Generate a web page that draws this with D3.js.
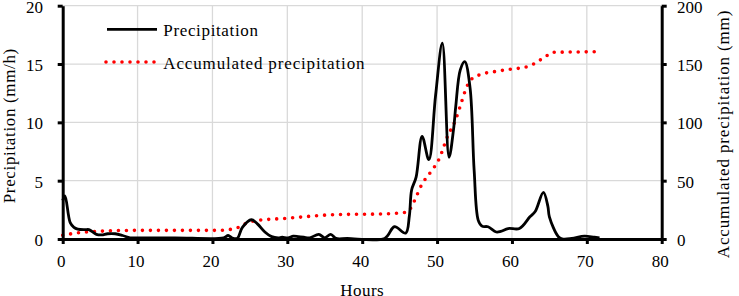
<!DOCTYPE html>
<html><head><meta charset="utf-8">
<script src="https://cdn.jsdelivr.net/npm/d3@7"></script>
<style>
html,body{margin:0;padding:0;background:#fff;}
svg{display:block;}
text{font-family:"Liberation Serif","Times New Roman",serif !important;fill:#000;}
</style></head>
<body><svg id="chart" width="739" height="296"></svg>
<script>
// Precipitation (mm/h) — hours and values
const precipHours = [0,0.3,1,1.5,2,3,3.5,4.5,5.2,6,7,8,9,10,15,21.5,22.1,22.6,23.3,24,25.2,26,27,27.9,28.8,29.3,30.1,30.8,31.5,32.2,33,34.2,35,35.8,36.5,38,43,44.3,45.8,46.3,46.6,47.2,48,48.9,49.8,50.7,51.6,52.2,52.5,53.1,53.7,54.4,54.95,55.5,56,56.8,57.9,58.5,59.5,61,62.4,63.1,64.2,64.8,65,66.2,66.8,68,69.7,71,71.7];
const precipValues = [3.3,3.7,1.4,1.0,0.85,0.8,0.8,0.4,0.35,0.45,0.45,0.3,0.1,0.1,0.1,0.1,0.3,0.1,0.05,1.0,1.65,1.3,0.6,0.2,0.1,0.15,0.1,0.25,0.2,0.15,0.1,0.4,0.1,0.4,0.05,0.05,0.05,1.05,0.5,2.0,4.2,5.3,8.8,6.8,12.3,16.8,7.0,9.4,11.4,14.5,15.2,13.0,5.9,1.6,1.1,1.05,0.6,0.65,0.9,0.9,1.9,2.35,4.0,2.8,1.9,0.2,0.0,0.05,0.25,0.15,0.1];
// Accumulated precipitation (mm)
const accumHours = [0,1,2.2,3.2,4.2,5.7,10,20.5,21.7,22.7,23.7,24.3,25,25.8,30,36.4,42.8,45.9,46.6,47.2,47.9,49.1,50.3,51.4,52.4,53.1,53.7,54.2,54.6,55.7,57.8,59.8,61.8,62.9,63.8,64.7,65.4,71.5];
const accumValues = [3.2,4.3,5.4,6.0,6.3,6.9,7.4,7.4,7.7,8.6,10.6,12.9,14.6,15.7,17.8,20.9,21.5,22.9,27.7,36,46,57,69,88,101,114,126,133.6,137,140.8,143.6,145.6,147.3,150,153.6,157.3,160,160.5];
const xTicks = [0,10,20,30,40,50,60,70,80];
const yLeftTicks = [0,5,10,15,20];
const yRightTicks = [0,50,100,150,200];
const seriesNames = ["Precipitation","Accumulated precipitation"];
const axisTitles = {x:"Hours", left:"Precipitation (mm/h)", right:"Accumulated precipitation (mm)"};

const FONT = '"Liberation Serif","Times New Roman",serif';
const svg = d3.select("#chart");
const L = 62.7, R = 661.7, T = 5.7, B = 239;
const x = d3.scaleLinear().domain([0,80]).range([L,R]);
const yL = d3.scaleLinear().domain([0,20]).range([B,T]);
const yR = d3.scaleLinear().domain([0,200]).range([B,T]);

// gridlines
const grid = svg.append("g").attr("stroke","#d9d9d9").attr("stroke-width",1.3);
grid.selectAll("line.h").data(yLeftTicks.slice(1)).join("line")
  .attr("x1",L).attr("x2",R).attr("y1",d=>yL(d)).attr("y2",d=>yL(d));
grid.selectAll("line.v").data(xTicks.slice(1,-1)).join("line")
  .attr("x1",d=>x(d)).attr("x2",d=>x(d)).attr("y1",T).attr("y2",B);

// series
const pData = precipHours.map((h,i)=>[h,precipValues[i]]);
const aData = accumHours.map((h,i)=>[h,accumValues[i]]);
svg.append("path").datum(aData)
  .attr("d", d3.line().x(d=>x(d[0])).y(d=>yR(d[1])).curve(d3.curveMonotoneX))
  .attr("fill","none").attr("stroke","#ff0000").attr("stroke-width",3.6)
  .attr("stroke-linecap","round").attr("stroke-dasharray","0 8");
svg.append("path").datum(pData)
  .attr("d", d3.line().x(d=>x(d[0])).y(d=>yL(Math.max(0,d[1]))).curve(d3.curveCatmullRom.alpha(0.5)))
  .attr("fill","none").attr("stroke","#000").attr("stroke-width",2.8)
  .attr("stroke-linejoin","round");

// axes
function styleAxis(g){
  g.attr("font-family",FONT).attr("font-size",17);
  g.select(".domain").attr("stroke","#000").attr("stroke-width",3);
  g.selectAll(".tick line").attr("stroke","#000").attr("stroke-width",3);
  g.selectAll(".tick text").attr("font-size",17).attr("font-family",FONT);
}
svg.append("g").attr("transform",`translate(${L},0)`)
  .call(d3.axisLeft(yL).tickValues(yLeftTicks).tickSizeInner(5).tickSizeOuter(0).tickPadding(14.7))
  .call(styleAxis).call(g=>g.selectAll(".tick text").attr("dy","0.38em"));
svg.append("g").attr("transform",`translate(${R},0)`)
  .call(d3.axisRight(yR).tickValues(yRightTicks).tickSizeInner(5).tickSizeOuter(0).tickPadding(10.3))
  .call(styleAxis).call(g=>g.selectAll(".tick text").attr("dy","0.38em"));
svg.append("g").attr("transform",`translate(0,${B})`)
  .call(d3.axisBottom(x).tickValues(xTicks).tickSizeInner(5).tickSizeOuter(0).tickPadding(11.2))
  .call(styleAxis).call(g=>g.selectAll(".tick text").attr("dx","-2"));

// axis titles
svg.append("text").attr("x",(L+R)/2).attr("y",295.5).attr("text-anchor","middle")
  .attr("font-size",17).attr("letter-spacing","0.5px").text(axisTitles.x);
svg.append("text").attr("transform","translate(14.5,125.7) rotate(-90)").attr("text-anchor","middle")
  .attr("font-size",17).attr("letter-spacing","0.65px").text(axisTitles.left);
svg.append("text").attr("transform","translate(728.5,134) rotate(-90)").attr("text-anchor","middle")
  .attr("font-size",17).attr("letter-spacing","0.85px").text(axisTitles.right);

// legend
const lg = svg.append("g");
lg.append("line").attr("x1",107).attr("x2",157).attr("y1",29.3).attr("y2",29.3)
  .attr("stroke","#000").attr("stroke-width",2.8);
lg.append("text").attr("x",163.3).attr("y",36).attr("font-size",17).attr("letter-spacing","0.65px").text(seriesNames[0]);
lg.append("line").attr("x1",106).attr("x2",156).attr("y1",62).attr("y2",62)
  .attr("stroke","#ff0000").attr("stroke-width",3.6).attr("stroke-linecap","round").attr("stroke-dasharray","0 8");
lg.append("text").attr("x",163.3).attr("y",69).attr("font-size",17).attr("letter-spacing","0.85px").text(seriesNames[1]);
</script>
</body></html>
